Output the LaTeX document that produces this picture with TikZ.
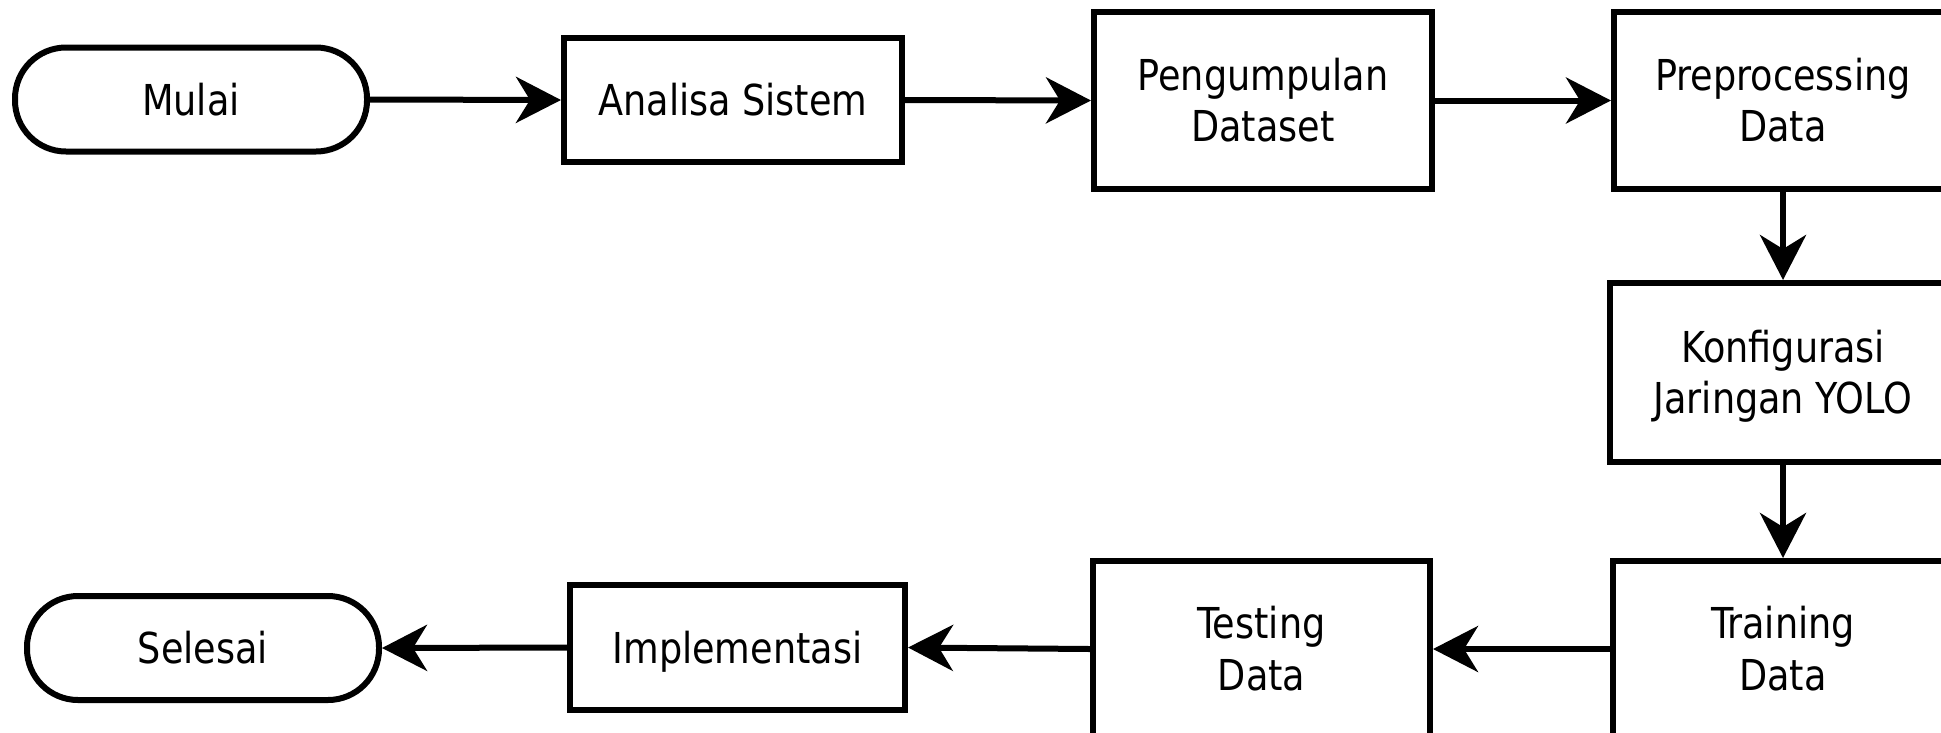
\documentclass[tikz,border=0pt]{standalone}
\usepackage{fontspec}
\setmainfont{DejaVu Sans Condensed}[FakeStretch=0.955]
\usetikzlibrary{arrows.meta}
\begin{document}
\begin{tikzpicture}[x=1pt,y=-1pt,
  box/.style={draw, line width=6pt, rectangle, inner sep=0pt, align=center,
    font=\fontsize{42.6}{51.4}\selectfont},
  oneline/.style={text height=31pt, text depth=0pt},
  twoline/.style={text height=82.4pt, text depth=0pt},
  proc/.style={box, minimum width=#1},
  term/.style={box, rounded corners=51pt, minimum width=352pt, minimum height=104pt},
  flow/.style={line width=6pt, -{Stealth[length=45pt,width=46pt,inset=14pt]}}]
  \useasboundingbox (0,0) rectangle (1941,732);
  \clip (0,0) rectangle (1941,732);

  % top row
  \node[term, oneline] (mulai) at (191,99.5) {Mulai};
  \node[proc=338pt, minimum height=124pt, oneline] (analisa) at (733,100) {Analisa Sistem};
  \node[proc=338pt, minimum height=177pt, twoline] (kumpul) at (1263,100.5) {Pengumpulan\\Dataset};
  \node[proc=338pt, minimum height=177pt, twoline] (prepro) at (1783,100.5) {Preprocessing\\Data};

  % right column
  \node[proc=346pt, minimum height=179pt, twoline] (konfig) at (1783,372.5) {Konfigurasi\\Jaringan YOLO};

  % bottom row
  \node[proc=340pt, minimum height=176pt, twoline] (training) at (1783,649) {Training\\Data};
  \node[proc=337pt, minimum height=176pt, twoline] (testing) at (1261.5,649) {Testing\\Data};
  \node[proc=335pt, minimum height=125pt, oneline] (impl) at (737.5,647.5) {Implementasi};
  \node[term, oneline] (selesai) at (203,648) {Selesai};

  % connectors
  \draw[flow] (mulai.east) -- (analisa.west);
  \draw[flow] (analisa.east) -- (kumpul.west);
  \draw[flow] (kumpul.east) -- (prepro.west);
  \draw[flow] (prepro.south) -- (konfig.north);
  \draw[flow] (konfig.south) -- (training.north);
  \draw[flow] (training.west) -- (testing.east);
  \draw[flow] (testing.west) -- (impl.east);
  \draw[flow] (impl.west) -- (selesai.east);
\end{tikzpicture}
\end{document}
